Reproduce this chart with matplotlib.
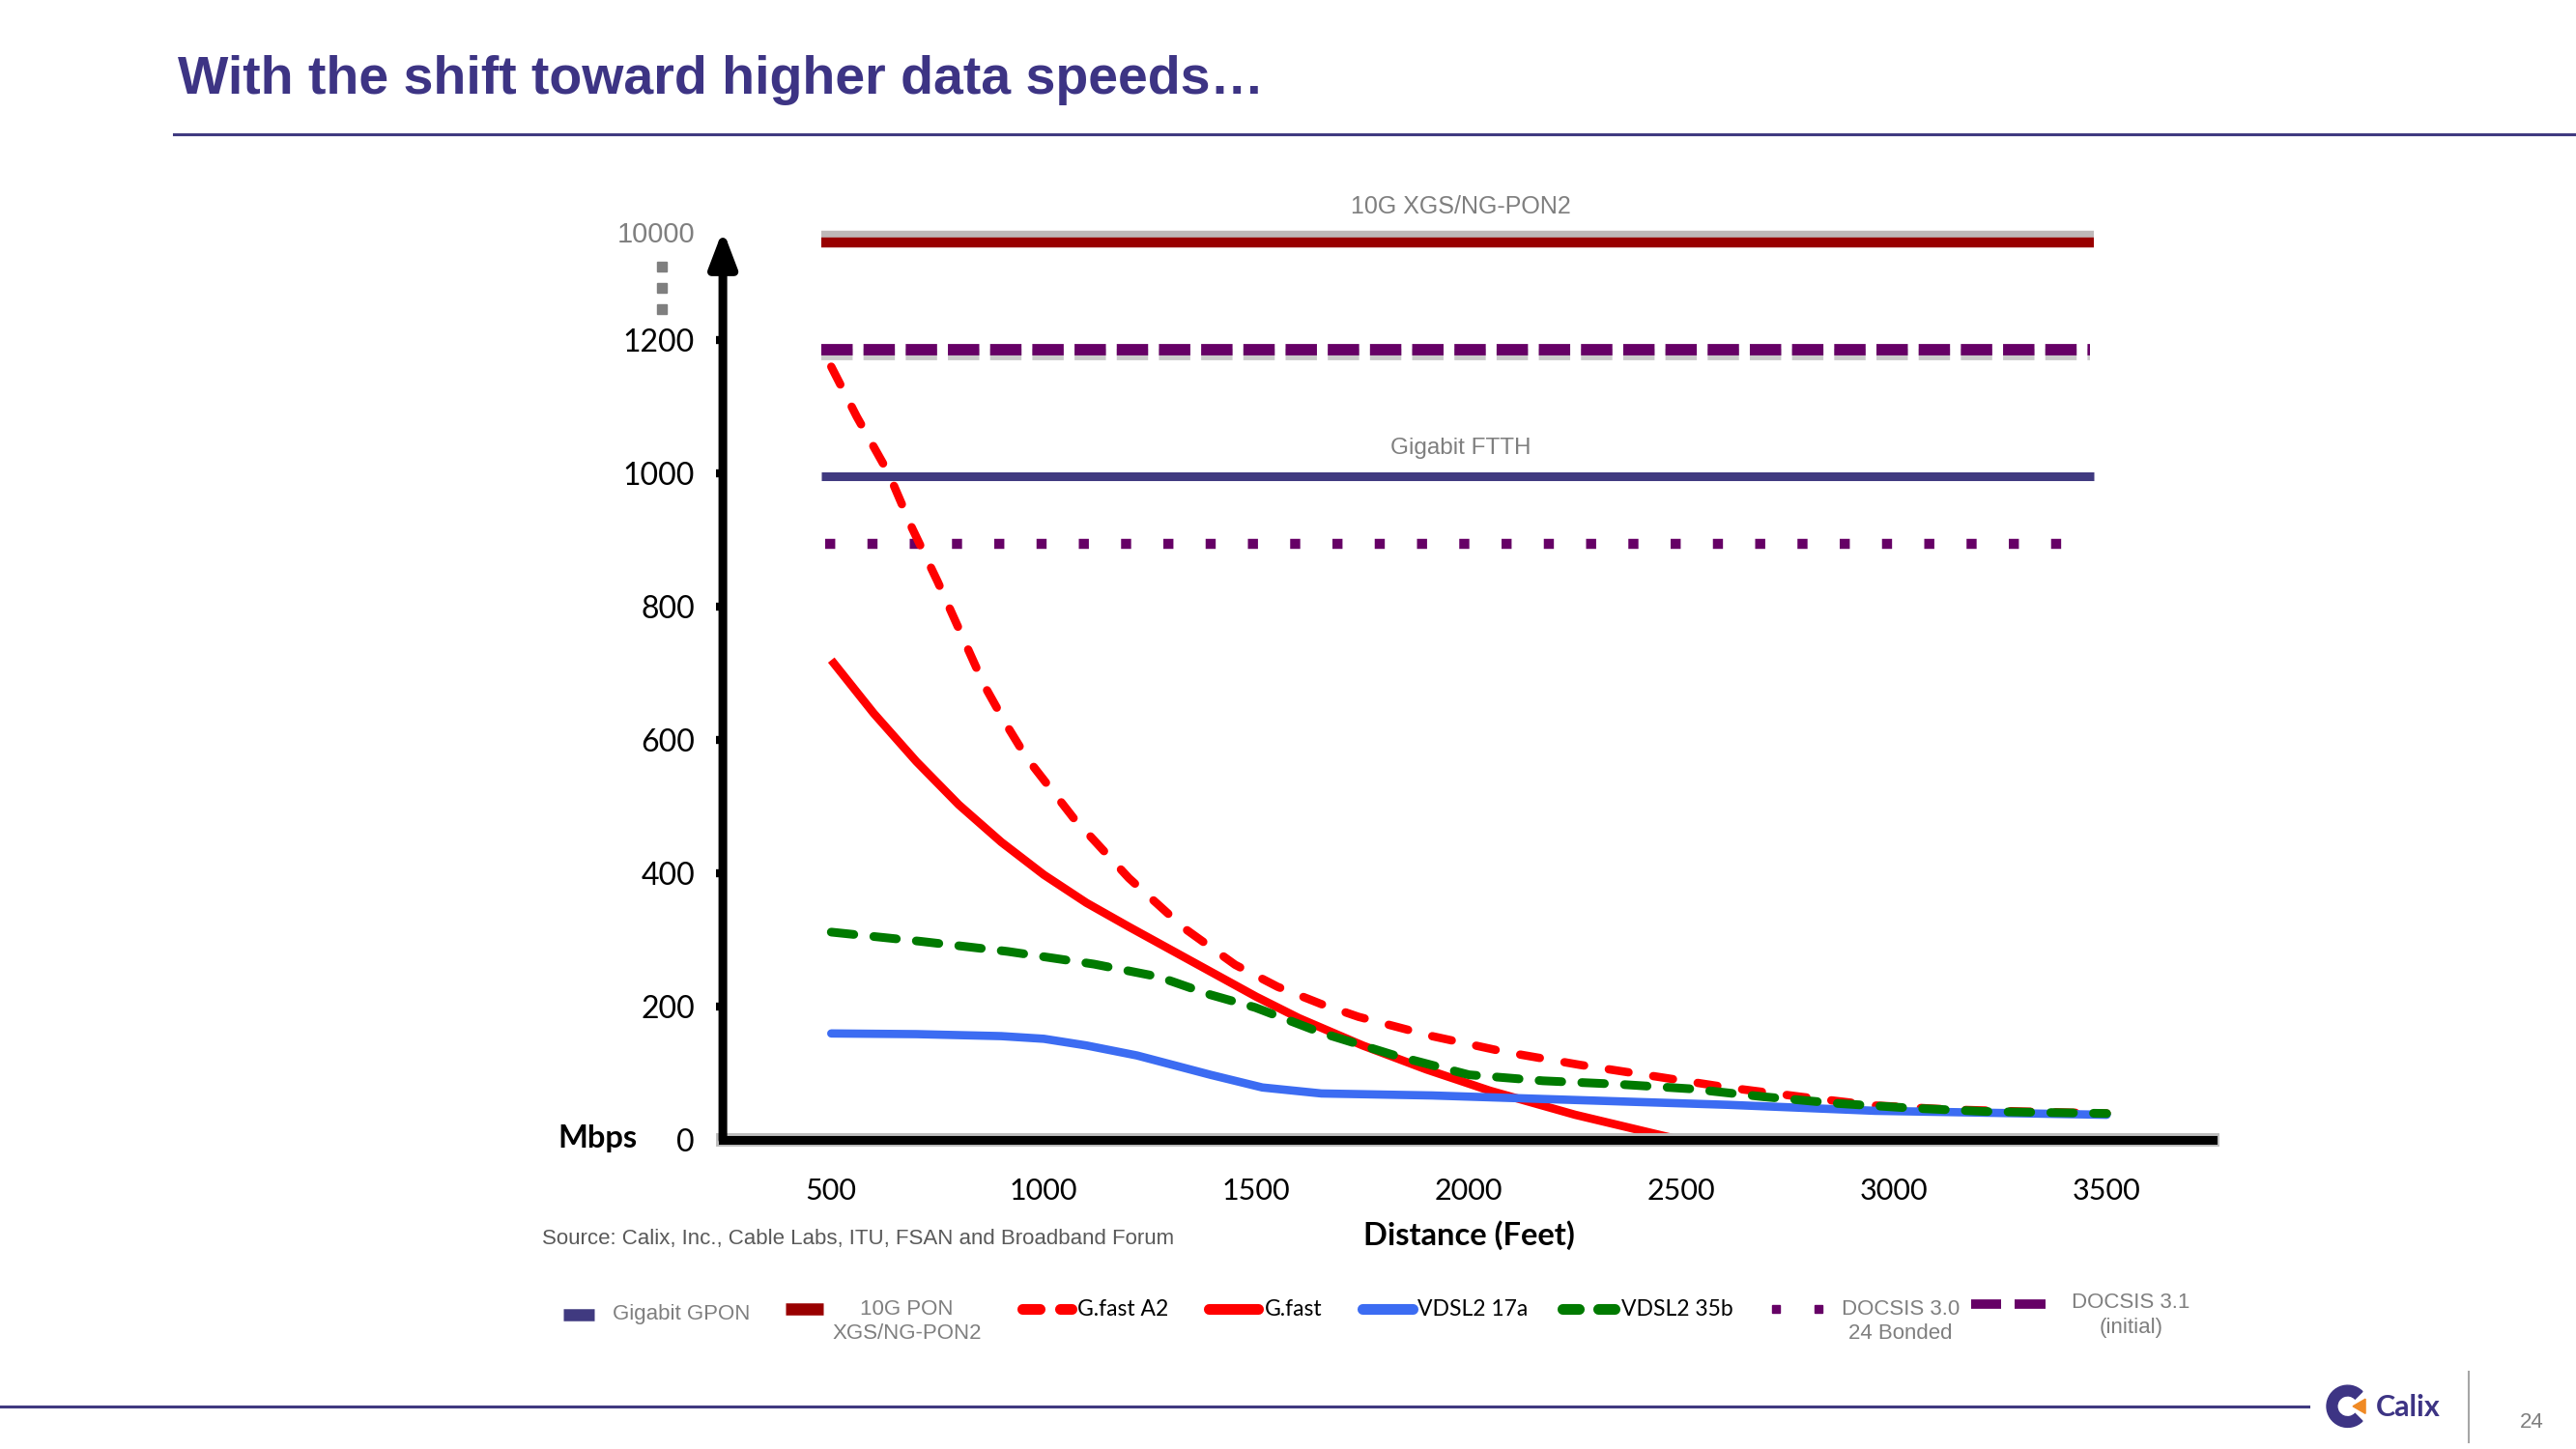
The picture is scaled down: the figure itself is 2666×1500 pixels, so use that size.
import matplotlib
matplotlib.use("Agg")
import matplotlib.pyplot as plt
import numpy as np
from matplotlib.lines import Line2D
from matplotlib import patheffects as pe
from matplotlib import font_manager as fm
from matplotlib.patches import Wedge, Polygon

# ---------------- data ----------------
x_ticks = [500, 1000, 1500, 2000, 2500, 3000, 3500]
y_ticks = [0, 200, 400, 600, 800, 1000, 1200, 10000]

ref_span = [477, 3470]          # distance span of the reference (fibre/cable) lines
pon_10g = 10000                 # 10G XGS/NG-PON2
gigabit_ftth = 995              # Gigabit FTTH / GPON
docsis31 = 1185                 # DOCSIS 3.1 (initial)
docsis30 = 895                  # DOCSIS 3.0 24 bonded

gfast_a2_x = [500, 560, 635, 690, 750, 805, 860, 910, 960, 1070, 1200, 1330, 1450, 1550,
              1653, 1740, 1913, 2087, 2260, 2434, 2608, 2781, 2955, 3128, 3300, 3500]
gfast_a2_y = [1160, 1085, 1000, 918, 838, 760, 682, 625, 573, 483, 393, 318, 263, 230,
              204, 185, 156, 132, 113, 96, 79, 65, 52, 46, 43, 40]

gfast_x = [500, 600, 700, 800, 900, 1000, 1100, 1200, 1300, 1400, 1500, 1600, 1750,
           1900, 2050, 2250, 2500]
gfast_y = [720, 640, 568, 503, 447, 398, 356, 320, 285, 250, 215, 183, 142,
           106, 74, 38, 0]

vdsl17a_x = [500, 700, 900, 1000, 1100, 1219, 1392, 1514, 1653, 1913, 2260, 2608, 2955, 3500]
vdsl17a_y = [160, 159, 156, 152, 142, 127, 98, 79, 70, 67, 60, 53, 44, 38]

vdsl35b_x = [500, 712, 915, 1118, 1270, 1392, 1497, 1653, 1826, 2000, 2174, 2347, 2521,
             2694, 2868, 3042, 3215, 3500]
vdsl35b_y = [312, 298, 283, 264, 245, 218, 199, 161, 127, 98, 89, 84, 77,
             65, 55, 48, 43, 40]

# ---------------- fonts ----------------
def has_font(name):
    try:
        fm.findfont(fm.FontProperties(family=name), fallback_to_default=False)
        return True
    except Exception:
        return False

SANS = "Liberation Sans" if has_font("Liberation Sans") else "DejaVu Sans"
NARROW = "Liberation Sans Narrow" if has_font("Liberation Sans Narrow") else SANS
CAL = "Lato" if has_font("Lato") else SANS

# ---------------- colours ----------------
C_GPON = "#403A80"
C_10G = "#990000"
C_DOC = "#660066"
C_RED = "#FF0000"
C_BLUE = "#3C6CF2"
C_GREEN = "#007A00"
C_TITLE = "#3D3484"
C_GRAY = "#7F7F7F"

W, H = 1568.0, 882.0          # layout reference grid
def fx(x): return x / W
def fy(y): return 1 - y / H

fig = plt.figure(figsize=(26.66, 15), dpi=100)
fig.patch.set_facecolor("white")

# ---------------- axes ----------------
ax = fig.add_axes([fx(440), fy(694), (1347 - 440) / W, (694 - 140) / H])
ax.set_facecolor("none")

K = 0.0167
def fwd(y):
    y = np.asarray(y, dtype=float)
    return np.where(y <= 1200, y, 1200 + (y - 1200) * K)
def inv(z):
    z = np.asarray(z, dtype=float)
    return np.where(z <= 1200, z, 1200 + (z - 1200) / K)
ax.set_yscale("function", functions=(fwd, inv))
ax.set_xlim(245, 3750)
ax.set_ylim(0, float(inv(1365)))

# reference lines
ax.plot(ref_span, [pon_10g] * 2, color=C_10G, lw=7.5, solid_capstyle="butt", zorder=3,
        path_effects=[pe.SimpleLineShadow(offset=(0, 5), shadow_color="#B0A8A8", alpha=0.8),
                      pe.Normal()])
ax.plot(ref_span, [gigabit_ftth] * 2, color=C_GPON, lw=6.5, solid_capstyle="butt", zorder=3)
ax.plot([ref_span[0], ref_span[1] - 10], [docsis31] * 2, color=C_DOC, lw=8.5,
        dashes=(2.75, 0.95), dash_capstyle="butt", zorder=3,
        path_effects=[pe.SimpleLineShadow(offset=(0, -3), shadow_color="#999999", alpha=0.5),
                      pe.Normal()])
ax.plot([ref_span[0] + 8, ref_span[1] - 30], [docsis30] * 2, color=C_DOC, lw=7.5,
        dashes=(1.0, 3.2), dash_capstyle="butt", zorder=3)

# technology curves
ax.plot(gfast_x, gfast_y, color=C_RED, lw=6.2, solid_capstyle="butt", solid_joinstyle="round", zorder=4)
ax.plot(gfast_a2_x, gfast_a2_y, color=C_RED, lw=6.2, dashes=(2.4, 3.0),
        dash_capstyle="round", zorder=5)
ax.plot(vdsl17a_x, vdsl17a_y, color=C_BLUE, lw=6.2, solid_capstyle="round", solid_joinstyle="round", zorder=6)
ax.plot(vdsl35b_x, vdsl35b_y, color=C_GREEN, lw=6.5, dashes=(2.6, 2.3),
        dash_capstyle="round", zorder=7)

# axes styling
for s in ["left", "top", "right"]:
    ax.spines[s].set_visible(False)
ax.spines["bottom"].set_linewidth(6.5)
ax.spines["bottom"].set_color("black")
ax.spines["bottom"].set_path_effects([pe.Stroke(linewidth=10, foreground="#BDBDBD"), pe.Normal()])
ax.spines["bottom"].set_zorder(8)

ax.annotate("", xy=(0, 1.0), xytext=(0, 0), xycoords="axes fraction",
            arrowprops=dict(arrowstyle="-|>,head_length=1.0,head_width=0.38", lw=6.5,
                            color="black", shrinkA=0, shrinkB=0, mutation_scale=22),
            zorder=9, annotation_clip=False)

ax.set_xticks(x_ticks)
ax.set_xticklabels([str(v) for v in x_ticks])
ax.tick_params(axis="x", length=0, pad=28, labelsize=22)
ax.set_yticks(y_ticks)
ax.set_yticklabels([str(v) if v != 10000 else "" for v in y_ticks])
ax.tick_params(axis="y", length=5, width=6, direction="out", pad=16, labelsize=23)
ax.yaxis.set_minor_locator(matplotlib.ticker.NullLocator())
for lbl in ax.get_xticklabels() + ax.get_yticklabels():
    lbl.set_fontfamily(CAL)
for t, v in zip(ax.yaxis.get_major_ticks(), y_ticks):
    if v in (0, 10000):
        t.tick1line.set_visible(False)
# top (broken-axis) label
fig.text(fx(423), fy(143), str(y_ticks[-1]), ha="right", va="center", fontsize=21,
         color=C_GRAY, family=NARROW)

# break dots between 1200 and 10000
fig.add_artist(Line2D([fx(403)] * 3, [fy(162), fy(175), fy(188)], ls="none", marker="s",
                      ms=7, color=C_GRAY, transform=fig.transFigure))

# annotations
fig.text(fx(889), fy(126), "10G XGS/NG-PON2", ha="center", va="center", fontsize=18,
         color=C_GRAY, family=NARROW)
fig.text(fx(889), fy(273), "Gigabit FTTH", ha="center", va="center", fontsize=17.5,
         color=C_GRAY, family=NARROW)
fig.text(fx(364), fy(693), "Mbps", ha="center", va="center", fontsize=23.5,
         fontweight="bold", family=CAL)
fig.text(fx(894), fy(752), "Distance (Feet)", ha="center", va="center", fontsize=23.5,
         fontweight="bold", family=CAL)
fig.text(fx(330), fy(754), "Source: Calix, Inc., Cable Labs, ITU, FSAN and Broadband Forum",
         ha="left", va="center", fontsize=16, color="#595959", family=SANS)

# title and rules
fig.text(fx(108), fy(49), "With the shift toward higher data speeds\u2026", ha="left", va="center",
         fontsize=40, fontweight="bold", color=C_TITLE, family=SANS)
fig.add_artist(Line2D([fx(106), 1.0], [fy(82), fy(82)], color=C_GPON, lw=2.2,
                      transform=fig.transFigure))
fig.add_artist(Line2D([0.0, fx(1405)], [fy(856), fy(856)], color=C_GPON, lw=2.2,
                      transform=fig.transFigure))
fig.add_artist(Line2D([fx(1503), fx(1503)], [fy(835), fy(878)], color="#A6A6A6", lw=1.5,
                      transform=fig.transFigure))
fig.text(fx(1541), fy(866), "24", ha="center", va="center", fontsize=16, color=C_GRAY,
         family=NARROW)

# Calix logo
lax = fig.add_axes([fx(1415), fy(870), 28 / W, 28 / H])
lax.set_xlim(-1.1, 1.1)
lax.set_ylim(-1.1, 1.1)
lax.set_aspect("equal")
lax.axis("off")
lax.add_patch(Wedge((0, 0), 1.0, 45, 315, width=0.5, color=C_TITLE))
lax.add_patch(Polygon([[0.25, 0.0], [0.85, 0.35], [0.85, -0.35]], closed=True, color="#F08A24"))
fig.text(fx(1446), fy(857), "Calix", ha="left", va="center", fontsize=22,
         fontweight="bold", color=C_TITLE, family=CAL)

# ---------------- legend (manual) ----------------
LY = 797
def leg_line(x0, x1, y, **kw):
    fig.add_artist(Line2D([fx(x0), fx(x1)], [fy(y), fy(y)], transform=fig.transFigure, **kw))

leg_line(343, 362, 800, color=C_GPON, lw=9, solid_capstyle="butt")
fig.text(fx(373), fy(800), "Gigabit GPON", ha="left", va="center", fontsize=16,
         color=C_GRAY, family=SANS)

leg_line(478, 501, 797, color=C_10G, lw=9, solid_capstyle="butt")
fig.text(fx(552), fy(797), "10G PON", ha="center", va="center", fontsize=16,
         color=C_GRAY, family=SANS)
fig.text(fx(552), fy(812), "XGS/NG-PON2", ha="center", va="center", fontsize=16,
         color=C_GRAY, family=SANS)

leg_line(622, 633, LY, color=C_RED, lw=8, solid_capstyle="round")
leg_line(645, 652, LY, color=C_RED, lw=8, solid_capstyle="round")
fig.text(fx(656), fy(LY), "G.fast A2", ha="left", va="center", fontsize=16.5, family=CAL)

leg_line(736, 766, LY, color=C_RED, lw=8, solid_capstyle="round")
fig.text(fx(770), fy(LY), "G.fast", ha="left", va="center", fontsize=16.5, family=CAL)

leg_line(829, 860, LY, color=C_BLUE, lw=8, solid_capstyle="round")
fig.text(fx(863), fy(LY), "VDSL2 17a", ha="left", va="center", fontsize=16.5, family=CAL)

leg_line(951, 961, LY, color=C_GREEN, lw=8, solid_capstyle="round")
leg_line(973, 983, LY, color=C_GREEN, lw=8, solid_capstyle="round")
fig.text(fx(987), fy(LY), "VDSL2 35b", ha="left", va="center", fontsize=16.5, family=CAL)

fig.add_artist(Line2D([fx(1081), fx(1107)], [fy(LY), fy(LY)], ls="none", marker="s", ms=6,
                      color=C_DOC, transform=fig.transFigure))
fig.text(fx(1157), fy(797), "DOCSIS 3.0", ha="center", va="center", fontsize=16,
         color=C_GRAY, family=SANS)
fig.text(fx(1157), fy(812), "24 Bonded", ha="center", va="center", fontsize=16,
         color=C_GRAY, family=SANS)

leg_line(1200, 1218, 794, color=C_DOC, lw=7, solid_capstyle="butt")
leg_line(1226, 1245, 794, color=C_DOC, lw=7, solid_capstyle="butt")
fig.text(fx(1297), fy(793), "DOCSIS 3.1", ha="center", va="center", fontsize=16,
         color=C_GRAY, family=SANS)
fig.text(fx(1297), fy(808), "(initial)", ha="center", va="center", fontsize=16,
         color=C_GRAY, family=SANS)

fig.savefig("out.png", dpi=100, facecolor="white")
